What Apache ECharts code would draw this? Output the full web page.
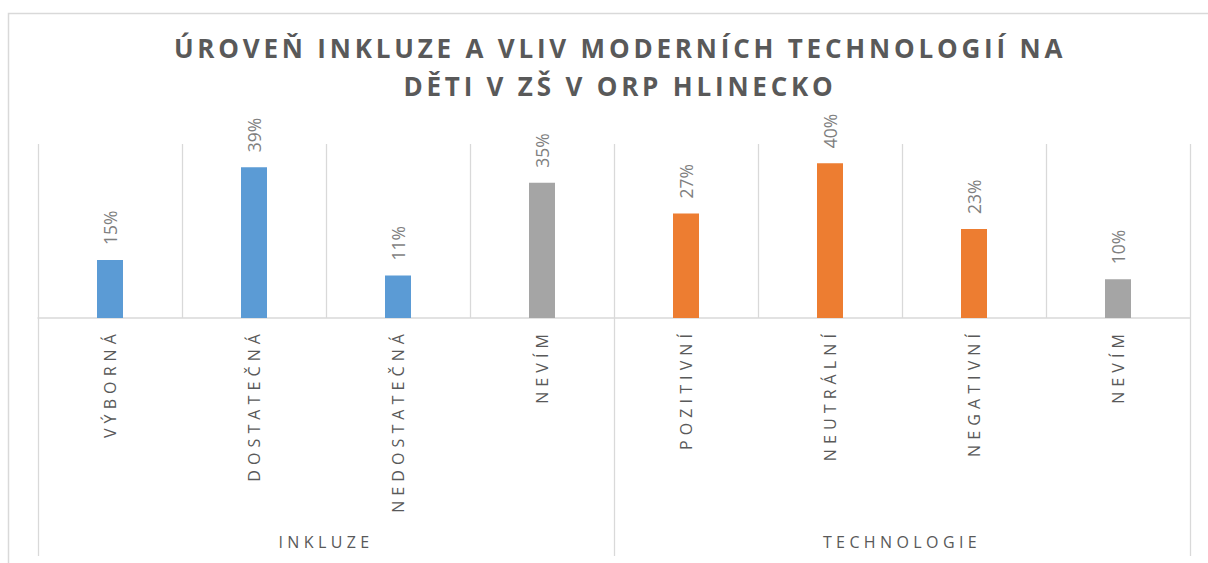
<!DOCTYPE html>
<html>
<head>
<meta charset="utf-8">
<script src="https://cdn.jsdelivr.net/npm/echarts@6/dist/echarts.min.js"></script>
<style>
  html, body { margin: 0; padding: 0; background: #ffffff; }
  #chart { width: 1208px; height: 563px; }
</style>
</head>
<body>
<div id="chart"></div>
<script>
// ---- data ----
const titleText = 'ÚROVEŇ INKLUZE A VLIV MODERNÍCH TECHNOLOGIÍ NA\nDĚTI V ZŠ V ORP HLINECKO';
const categories = ['VÝBORNÁ', 'DOSTATEČNÁ', 'NEDOSTATEČNÁ', 'NEVÍM', 'POZITIVNÍ', 'NEUTRÁLNÍ', 'NEGATIVNÍ', 'NEVÍM'];
const values = [15, 39, 11, 35, 27, 40, 23, 10];
const groups = ['INKLUZE', 'TECHNOLOGIE'];
const categoryGroup = [0, 0, 0, 0, 1, 1, 1, 1];
const unknownLabel = 'NEVÍM';

// ---- styles ----
const BLUE = '#5B9BD5', ORANGE = '#ED7D31', GRAY = '#A5A5A5';
const LINE = '#d9d9d9';
const TEXT = '#595959';
const FONT = "'Open Sans', 'DejaVu Sans', sans-serif";

const chart = echarts.init(document.getElementById('chart'), null, { renderer: 'svg' });

const option = {
  animation: false,
  backgroundColor: '#ffffff',
  title: {
    text: titleText,
    left: 620,
    top: 29,
    padding: 0,
    textAlign: 'center',
    textStyle: {
      color: TEXT, fontSize: 26, fontWeight: 'bold', fontFamily: FONT, lineHeight: 38
    }
  },
  graphic: [{
    type: 'polyline',
    silent: true,
    shape: { points: [[8.5, 563], [8.5, 13.5], [1208, 13.5]] },
    style: { stroke: LINE, lineWidth: 1.5, fill: null }
  }],
  grid: { left: 38, right: 18, top: 144, bottom: 245, containLabel: false },
  xAxis: [{
    type: 'category',
    data: categories,
    position: 'bottom',
    axisLine: { show: true, lineStyle: { color: LINE, width: 1.5 } },
    axisTick: { show: false },
    splitLine: { show: true, interval: 0, lineStyle: { color: LINE, width: 1.3 } },
    axisLabel: {
      interval: 0, rotate: 90, margin: 11, color: TEXT, fontSize: 16, fontFamily: FONT
    }
  }, {
    type: 'category',
    data: groups,
    position: 'bottom',
    axisLine: { show: false },
    axisTick: { show: true, interval: 0, length: 238, lineStyle: { color: LINE, width: 1.3 } },
    splitLine: { show: false },
    axisLabel: {
      interval: 0, margin: 216, color: TEXT, fontSize: 16, fontFamily: FONT
    }
  }],
  yAxis: {
    type: 'value', min: 0, max: 45, show: false, splitLine: { show: false }
  },
  series: [{
    type: 'bar',
    xAxisIndex: 0,
    data: values,
    barWidth: 26,
    itemStyle: {
      color: function (p) {
        if (categories[p.dataIndex] === unknownLabel) return GRAY;
        return categoryGroup[p.dataIndex] === 0 ? BLUE : ORANGE;
      }
    },
    label: {
      show: true,
      position: 'top',
      distance: 15,
      rotate: 90,
      align: 'left',
      verticalAlign: 'middle',
      formatter: '{c}%',
      color: '#7f7f7f',
      fontSize: 17.5,
      fontFamily: FONT
    }
  }]
};

chart.setOption(option);

// letter spacing like the original (SVG text)
const spaced = {};
categories.forEach(c => spaced[c] = '5.1px');
groups.forEach(g => spaced[g] = '4.4px');
titleText.split('\n').forEach(t => spaced[t] = '3.8px');
function applySpacing() {
  document.querySelectorAll('#chart svg text').forEach(el => {
    const s = spaced[el.textContent];
    if (s) el.style.letterSpacing = s;
  });
}
applySpacing();
chart.on('rendered', applySpacing);
chart.on('finished', applySpacing);
setTimeout(applySpacing, 50);
</script>
</body>
</html>
